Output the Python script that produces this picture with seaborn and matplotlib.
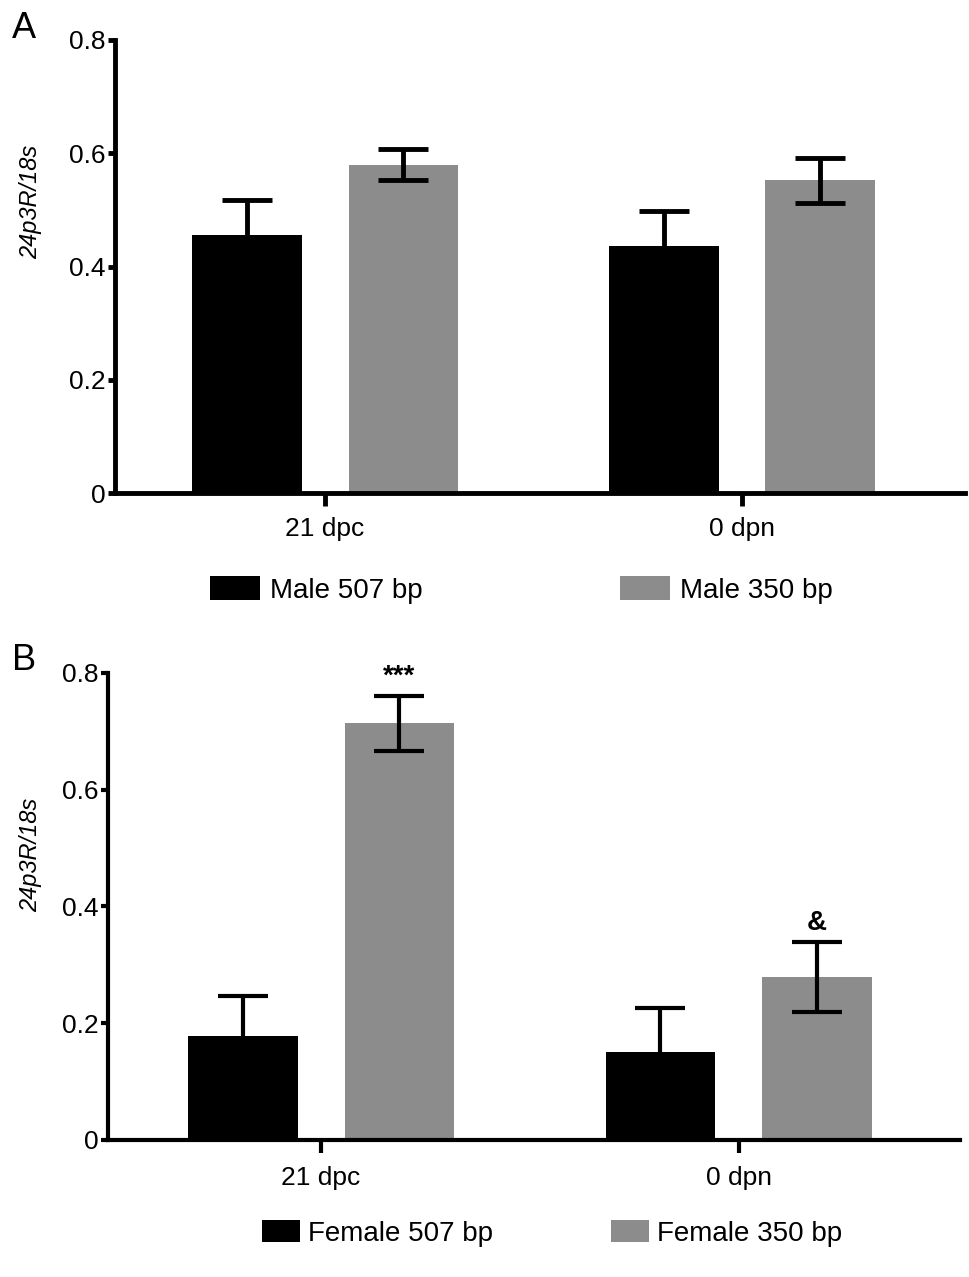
import numpy as np
import pandas as pd
import matplotlib
matplotlib.use("Agg")
import matplotlib.pyplot as plt
import seaborn as sns

# values
stages = ["21 dpc", "0 dpn"]
male_507 = [0.456, 0.436]
male_507_err = [0.062, 0.062]
male_350 = [0.580, 0.552]
male_350_err = [0.028, 0.040]
female_507 = [0.178, 0.150]
female_507_err = [0.069, 0.076]
female_350 = [0.714, 0.280]
female_350_err = [0.047, 0.060]
marks_b = ["***", "&"]

sns.set_style("ticks", {"axes.edgecolor": "black", "text.color": "black",
                        "xtick.color": "black", "ytick.color": "black",
                        "axes.labelcolor": "black"})
plt.rcParams["font.family"] = ["Liberation Sans", "DejaVu Sans"]

colors = ["#000000", "#8c8c8c"]


def panel(ax, lab1, v1, e1, lab2, v2, e2, spine_w, marks=None):
    df = pd.DataFrame({
        "stage": stages * 2,
        "value": v1 + v2,
        "group": [lab1] * 2 + [lab2] * 2,
    })
    sns.barplot(data=df, x="stage", y="value", hue="group", order=stages,
                hue_order=[lab1, lab2], palette=colors, width=0.75, gap=0.3,
                errorbar=None, saturation=1, linewidth=0, ax=ax)
    for i, (cont, errs) in enumerate(zip(ax.containers, [e1, e2])):
        xs = [p.get_x() + p.get_width() / 2 for p in cont]
        ys = [p.get_height() for p in cont]
        ax.errorbar(xs, ys, yerr=errs, fmt="none", ecolor="black",
                    elinewidth=spine_w, capsize=18, capthick=spine_w, zorder=5)
        if marks is not None and i == 1:
            for x, y, e, m in zip(xs, ys, errs, marks):
                ax.text(x, y + e + 0.01, m, ha="center", va="bottom",
                        fontsize=20, fontweight="bold")
    ax.set_ylim(0, 0.8)
    ax.set_yticks([0, 0.2, 0.4, 0.6, 0.8])
    ax.set_yticklabels(["0", "0.2", "0.4", "0.6", "0.8"])
    ax.set_xlabel("")
    ax.set_ylabel("24p3R/18s", fontsize=17, style="italic")
    sns.despine(ax=ax)
    for s in ["left", "bottom"]:
        ax.spines[s].set_linewidth(spine_w)
    ax.tick_params(axis="both", labelsize=19, width=spine_w, color="black")
    ax.tick_params(axis="y", length=5, pad=2)
    ax.tick_params(axis="x", length=9, pad=8)


fig = plt.figure(figsize=(9.69, 12.77), dpi=100)
ax1 = fig.add_axes([0.1187, 0.6139, 0.8772, 0.3548])
ax2 = fig.add_axes([0.1115, 0.1073, 0.8792, 0.3657])

panel(ax1, "Male 507 bp", male_507, male_507_err,
      "Male 350 bp", male_350, male_350_err, 3.5)
ax1.set_xlim(-0.504, 1.535)
ax1.yaxis.set_label_coords(-0.086, 0.642)
h, l = ax1.get_legend_handles_labels()
ax1.legend(h, l, loc="center", bbox_to_anchor=(0.478, -0.214), ncol=2,
           frameon=False, fontsize=20, handlelength=1.8, handleheight=0.9,
           handletextpad=0.36, columnspacing=7.1)

panel(ax2, "Female 507 bp", female_507, female_507_err,
      "Female 350 bp", female_350, female_350_err, 3.0, marks=marks_b)
ax2.set_xlim(-0.51, 1.53)
ax2.yaxis.set_label_coords(-0.077, 0.61)
ax2.tick_params(axis="x", pad=10)
h, l = ax2.get_legend_handles_labels()
ax2.legend(h, l, loc="center", bbox_to_anchor=(0.521, -0.2), ncol=2,
           frameon=False, fontsize=20, handlelength=1.37, handleheight=0.86,
           handletextpad=0.29, columnspacing=4.25)

fig.text(0.012, 0.978, "A", fontsize=26, va="center")
fig.text(0.012, 0.483, "B", fontsize=26, va="center")

fig.savefig("out.png", dpi=100)
